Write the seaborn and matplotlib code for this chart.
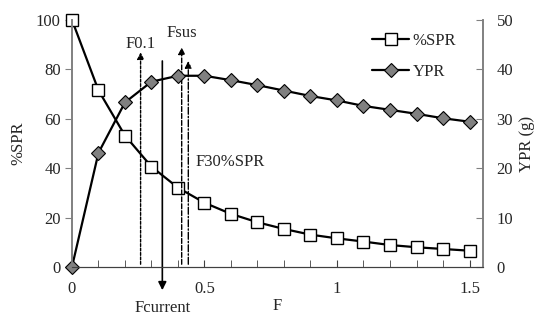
import numpy as np
import pandas as pd
import matplotlib
matplotlib.use("Agg")
import matplotlib.pyplot as plt
import seaborn as sns

# Data
F = [0.0, 0.1, 0.2, 0.3, 0.4, 0.5, 0.6, 0.7, 0.8, 0.9, 1.0, 1.1, 1.2, 1.3, 1.4, 1.5]
spr = [100, 71.5, 53.2, 40.6, 32.1, 26.0, 21.5, 18.1, 15.4, 13.1, 11.6, 10.3, 8.9, 8.0, 7.3, 6.6]
ypr = [0, 23.1, 33.3, 37.5, 38.7, 38.7, 37.8, 36.8, 35.7, 34.6, 33.7, 32.6, 31.8, 31.0, 30.1, 29.4]

# reference points
ref_names = ["F0.1", "Fcurrent", "Fsus", "F30%SPR"]
ref_F = [0.259, 0.341, 0.414, 0.439]

df = pd.DataFrame({"F": F, "spr": spr, "ypr": ypr})

sns.set_style("ticks")
plt.rcParams["font.family"] = ["Liberation Serif", "DejaVu Serif"]
plt.rcParams["font.size"] = 12

fig = plt.figure(figsize=(5.37, 3.16), dpi=100)
ax = fig.add_axes([0.134, 0.155, 0.765, 0.782])
ax2 = ax.twinx()

# reference lines with arrows
ax.annotate("", xy=(ref_F[0], 88), xytext=(ref_F[0], 0),
            arrowprops=dict(arrowstyle="-|>", color="black", lw=1.0, ls=(0, (2, 1.2)), mutation_scale=10))
ax.text(ref_F[0], 88.8, ref_names[0], ha="center", va="baseline")
ax.annotate("", xy=(ref_F[1], -10.5), xytext=(ref_F[1], 84.5),
            arrowprops=dict(arrowstyle="-|>", color="black", lw=1.2, mutation_scale=12), annotation_clip=False)
ax.text(ref_F[1], -13.5, ref_names[1], ha="center", va="top")
ax.annotate("", xy=(ref_F[2], 90), xytext=(ref_F[2], 0),
            arrowprops=dict(arrowstyle="-|>", color="black", lw=1.0, ls=(0, (3.5, 1.5)), mutation_scale=10))
ax.text(ref_F[2], 93.2, ref_names[2], ha="center", va="baseline")
ax.annotate("", xy=(ref_F[3], 84.5), xytext=(ref_F[3], 0),
            arrowprops=dict(arrowstyle="-|>", color="black", lw=1.0, ls=(0, (5, 1.5, 1, 1.5)), mutation_scale=10))
ax.text(0.468, 42.5, ref_names[3], ha="left", va="center")

sns.lineplot(data=df, x="F", y="ypr", ax=ax2, color="black", lw=1.6,
             marker="D", markersize=7.5, markerfacecolor="#808080", markeredgecolor="black",
             markeredgewidth=0.8, label="YPR", clip_on=False)
sns.lineplot(data=df, x="F", y="spr", ax=ax, color="black", lw=1.6,
             marker="s", markersize=9, markerfacecolor="white", markeredgecolor="black",
             markeredgewidth=1.0, label="%SPR", clip_on=False)

ax.set_xlim(0, 1.55)
ax.set_ylim(0, 100)
ax2.set_ylim(0, 50)
ax.set_xticks([0, 0.5, 1, 1.5])
ax.set_xticklabels(["0", "0.5", "1", "1.5"])
ax.set_xticks(np.arange(0, 1.55, 0.1), minor=True)
ax.set_yticks([0, 20, 40, 60, 80, 100])
ax2.set_yticks([0, 10, 20, 30, 40, 50])

ax.tick_params(axis="x", which="both", direction="in", length=5, pad=10, color="#404040")
ax.tick_params(axis="y", direction="out", length=5, pad=3, color="#808080")
ax2.tick_params(axis="y", direction="in", length=5, pad=10, color="#808080")

ax.set_xlabel("F", labelpad=1)
ax.set_ylabel("%SPR", labelpad=7)
ax2.set_ylabel("YPR (g)", labelpad=4)

for a in (ax, ax2):
    a.spines["top"].set_visible(False)
    a.spines["left"].set_color("#808080")
    a.spines["right"].set_color("#808080")
    a.spines["bottom"].set_color("#404040")
    a.spines["left"].set_linewidth(1.2)
    a.spines["right"].set_linewidth(1.2)

# combined legend
h1, l1 = ax.get_legend_handles_labels()
h2, l2 = ax2.get_legend_handles_labels()
if ax2.get_legend():
    ax2.get_legend().remove()
ax.legend(h1 + h2, l1 + l2, loc="upper left", bbox_to_anchor=(0.715, 0.975), frameon=False,
          handlelength=2.2, handletextpad=0.2, labelspacing=0.9, borderaxespad=0)

fig.savefig("out.png", dpi=100)
